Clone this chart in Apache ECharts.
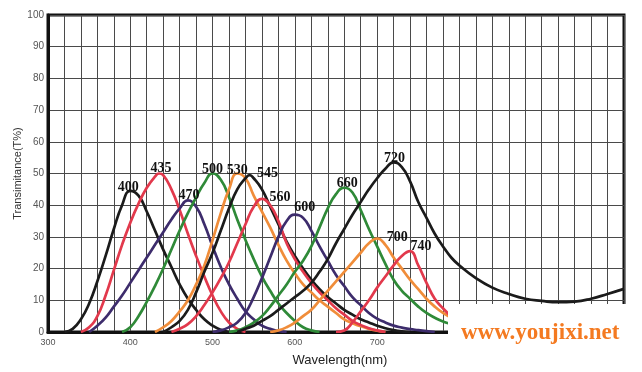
<!DOCTYPE html>
<html>
<head>
<meta charset="utf-8">
<script src="https://cdn.jsdelivr.net/npm/echarts@6/dist/echarts.min.js"></script>
<style>
html,body{margin:0;padding:0;background:#fff;}
#chart{width:642px;height:372px;}
</style>
</head>
<body>
<div id="chart"></div>
<script>
// ---- data (wavelength nm, transmittance %) ----
const wl400 = [320,330,340,350,360,370,380,390,400,410,420,430,440,450,460,470,480,490,500,510,520];
const t400  = [0,1,4,9,16,24,32.5,40,44.5,43,38,32,26,20.5,15,10.5,7,4,2,0.7,0];

const wl435 = [340,350,360,370,380,390,400,410,420,430,435,440,450,460,470,480,490,500,510,520,530,540];
const t435  = [0,1.5,5,11.5,19.5,27.5,34.5,40.5,45.5,49,50,49.5,45,38.5,31,24,17.5,11.5,6.5,3,1,0];

const wl470 = [350,360,370,380,390,400,410,420,430,440,450,460,470,480,490,500,510,520,530,540,550,560,570,580,590];
const t470  = [0,2,4.5,8,11.5,15.5,19.5,23.5,27.5,31.5,35.5,39,41.5,39.5,34,27,20.5,15,10.5,6.5,4,2,1,0.3,0];

const wl500 = [390,400,410,420,430,440,450,460,470,480,490,500,510,520,530,540,550,560,570,580,590,600,610,620,630];
const t500  = [0,1.5,5,9.5,14.5,20,26,32,37.5,42.5,47,50,48,42.5,35.5,29,23,17.5,13,9,6,3.5,1.5,0.5,0];

const wl530 = [430,440,450,460,470,480,490,500,510,520,530,540,550,560,570,580,590,600,610,620,630,640,650,660,670,680,690,700,710];
const t530  = [0,1.5,3.5,6.5,10,15,21,29,37.5,45,50,48.5,43,38,33,27.5,22.5,18.5,15,12.5,10,8,6,4,2.8,1.8,1,0.4,0];

const wl545 = [440,450,460,470,480,490,500,510,520,530,540,545,550,560,570,580,590,600,610,620,630,640,650,660,670,680,690,700,710,720,730,740];
const t545  = [0,1.5,3.5,7,12.5,19,25,32,39,45,48.5,49.5,48.5,45,39.5,34,28.5,24,20,16.5,13.5,11,9,7,5.5,4,3,2,1.2,0.6,0.2,0];

const wl560 = [450,460,470,480,490,500,510,520,530,540,550,560,570,580,590,600,610,620,630,640,650,660,670,680,690,700,710];
const t560  = [0,1,2.5,5,8.5,12.5,17,22,28,34,39.5,42,40,35,28,23,19,15.5,12.5,10,7.5,5.5,3.5,2.2,1.2,0.5,0];

const wl600 = [500,510,520,530,540,550,560,570,580,590,600,610,620,630,640,650,660,670,680,690,700,710,720,730,740,750,760,770];
const t600  = [0,0.5,1.5,3,6,11,17,23.5,30,35,37,36,32,27,22.5,18,14.5,11,8.5,6,4.2,3,2,1.4,0.9,0.6,0.3,0];

const wl660 = [520,530,540,550,560,570,580,590,600,610,620,630,640,650,660,670,680,690,700,710,720,730,740,750,760,770,780,790,800,820,840,860];
const t660  = [0,0.5,1.5,3,5,8,11.5,15,19,22.5,27,33,39,43.5,45.5,44,38.5,32.5,27,21.5,16.5,13,10.5,8,6,4.5,3.3,2.5,1.8,1,0.5,0];

const wl700 = [570,580,590,600,610,620,630,640,650,660,670,680,690,700,710,720,730,740,750,760,770,780,790,800,820,840,860];
const t700  = [0,0.5,1.5,3,5,7,10,13,16,19,22,25,28,29.5,27.5,23.5,20,16.5,13.5,10.5,8,6,4.5,3,1.5,0.5,0];

const wl720 = [530,540,550,560,570,580,590,600,610,620,630,640,650,660,670,680,690,700,710,720,730,740,750,760,770,780,790,800,820,840,860,880,900,920,940,960,980,1000];
const t720  = [0,1,2,3.5,5,7,9,11,13,15.5,19,23,28,32.5,37,41,45,48.5,51.5,53.5,52,47.5,41,36,31,27,23.5,21,17,14,12,10.5,9.8,9.4,9.6,10.5,12,13.6];

const wl740 = [650,660,670,680,690,700,710,720,730,740,750,760,770,780,790,800,810,820,830,840];
const t740  = [0,0.5,3,6.5,10,14,17.5,21,24,25.5,21,15.5,10.5,7.5,5,3.5,2,1,0.3,0];

const curveNames = ['400','435','470','500','530','545','560','600','660','700','720','740'];
const curveWl = [wl400,wl435,wl470,wl500,wl530,wl545,wl560,wl600,wl660,wl700,wl720,wl740];
const curveT  = [t400,t435,t470,t500,t530,t545,t560,t600,t660,t700,t720,t740];

const yTicks = [0,10,20,30,40,50,60,70,80,90,100];
const xLabelTicks = [300,400,500,600,700,800,900,1000];

// ---- styles ----
const colors = {
  '400':'#1b1b1b','435':'#e2394c','470':'#3d2c6c','500':'#2f8a38','530':'#f08d3a',
  '545':'#1b1b1b','560':'#e2394c','600':'#3d2c6c','660':'#2f8a38','700':'#f08d3a',
  '720':'#1b1b1b','740':'#e2394c'
};
const labelOffsets = {
  '400':[-2,3],'435':[2,2],'470':[1,2],'500':[0,3],'530':[0,4],'545':[18,5],
  '560':[18,6],'600':[10,0],'660':[3,3],'720':[1,3],'700':[20,6],'740':[11,2]
};

const series = curveNames.map((name, i) => ({
  name: name,
  type: 'line',
  smooth: true,
  symbol: 'none',
  data: curveWl[i].map((w, j) => [w, curveT[i][j]]),
  lineStyle: { color: colors[name], width: 2.7 },
  itemStyle: { color: colors[name] },
  z: 3,
  markPoint: {
    symbol: 'circle',
    symbolSize: 0,
    data: [{ type: 'max' }],
    label: {
      show: true,
      position: 'top',
      distance: 0,
      offset: labelOffsets[name],
      formatter: name,
      fontFamily: 'Liberation Serif',
      fontWeight: 'bold',
      fontSize: 14,
      color: '#111'
    }
  }
}));

const chart = echarts.init(document.getElementById('chart'), null, { renderer: 'canvas' });
chart.setOption({
  animation: false,
  backgroundColor: '#fff',
  grid: {
    left: 48, top: 15, right: 18, bottom: 35,
    show: true, borderColor: '#111', borderWidth: 3, backgroundColor: 'transparent'
  },
  xAxis: {
    type: 'value', min: 300, max: 1000, interval: 20,
    axisLine: { show: true, lineStyle: { color: '#111', width: 3 } },
    axisTick: { show: false },
    splitLine: { show: true, lineStyle: { color: '#4a4a4a', width: 1 } },
    axisLabel: {
      fontSize: 9, color: '#555', fontFamily: 'Liberation Sans', margin: 6,
      formatter: v => (xLabelTicks.indexOf(v) >= 0 ? String(v) : '')
    },
    name: 'Wavelength(nm)', nameLocation: 'middle', nameGap: 22,
    nameTextStyle: { fontSize: 13, color: '#222', fontFamily: 'Liberation Sans', padding: [0, 0, 0, 8] }
  },
  yAxis: {
    type: 'value', min: 0, max: 100, interval: 10,
    axisLine: { show: true, lineStyle: { color: '#111', width: 3 } },
    axisTick: { show: false },
    splitLine: { show: true, lineStyle: { color: '#4a4a4a', width: 1 } },
    axisLabel: {
      fontSize: 10, color: '#555', fontFamily: 'Liberation Sans', margin: 4,
      formatter: v => (yTicks.indexOf(v) >= 0 ? String(v) : '')
    },
    name: 'Transimitance(T%)', nameLocation: 'middle', nameGap: 25, nameMoveOverlap: false,
    nameTextStyle: { fontSize: 11, color: '#333', fontFamily: 'Liberation Sans' }
  },
  series: series,
  graphic: [
    { type: 'rect', left: 448, top: 304, z: 100,
      shape: { width: 194, height: 68 }, style: { fill: '#fff' } },
    { type: 'text', left: 461, top: 322, z: 101,
      style: { text: 'www.youjixi.net', fill: '#f47a21',
               font: 'bold 23px "Liberation Serif"' } }
  ]
});
</script>
</body>
</html>
